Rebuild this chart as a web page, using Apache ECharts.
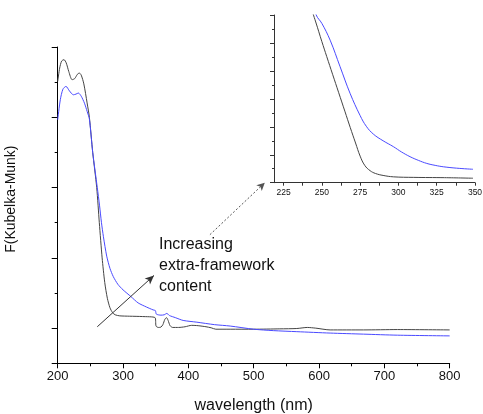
<!DOCTYPE html>
<html><head><meta charset="utf-8">
<script src="https://cdn.jsdelivr.net/npm/echarts@6/dist/echarts.min.js"></script>
<style>html,body{margin:0;padding:0;background:#fff}#c{width:483px;height:414px}</style>
</head><body><div id="c"></div>
<script>
// Main plot: wavelength (nm) vs F(Kubelka-Munk) (arbitrary units)
var mainBlack = [[200,8.02],[203,8.4],[206,8.6],[209.6,8.64],[213,8.55],[217,8.3],[222,8.07],[226,8.1],[230,8.22],[233,8.26],[236,8.2],[240,7.95],[245,7.41],[248.5,7.0],[253.6,6.0],[259.7,5.0],[263.7,4.0],[268,3.0],[272,2.3],[276,1.85],[280,1.58],[284,1.44],[288,1.38],[295,1.35],[310,1.34],[330,1.33],[349,1.30],[350.5,1.06],[354,1.02],[358,1.03],[361,1.1],[364,1.25],[366.5,1.30],[369,1.22],[372,1.07],[376,1.02],[385,1.02],[395,1.04],[405,1.08],[415,1.07],[427,1.04],[435,1.01],[442,0.97],[464,0.97],[500,0.97],[540,0.98],[566,0.99],[582,1.02],[595,1.0],[617,0.95],[668,0.95],[720,0.96],[800,0.95]];
var mainBlue = [[200,6.93],[204,7.5],[208,7.8],[212.7,7.88],[218,7.75],[224,7.64],[228,7.66],[231.6,7.69],[236,7.6],[241,7.4],[245,7.17],[248.5,6.95],[253.6,6.0],[260.6,5.0],[264,4.5],[267,4.0],[270,3.6],[275,3.05],[280,2.7],[285,2.47],[292,2.25],[300,2.09],[312,1.9],[323,1.72],[336,1.6],[346,1.52],[349.5,1.5],[351,1.40],[358,1.37],[363,1.38],[367,1.42],[371,1.36],[380,1.30],[392,1.22],[413,1.17],[440,1.10],[464,1.06],[500,0.97],[530,0.93],[566,0.90],[617,0.86],[668,0.83],[720,0.80],[800,0.78]];
// Inset plot (225-350 nm zoom)
var insetBlack = [[243,6.25],[246,5.75],[250,5.05],[253.2,4.51],[257,3.88],[261,3.22],[265,2.56],[268.5,1.98],[272,1.42],[275,0.95],[278,0.62],[281.5,0.43],[285,0.33],[290,0.26],[296.7,0.21],[310,0.19],[330,0.18],[348.7,0.16]];
var insetBlue = [[245,6.4],[246.3,6.0],[250,5.7],[255.4,5.1],[261.9,4.15],[268.4,3.2],[275,2.40],[279,2.02],[283.6,1.74],[290,1.50],[296.7,1.29],[302,1.1],[307.6,0.93],[313,0.8],[318.5,0.69],[324,0.62],[329.3,0.57],[338,0.52],[348.7,0.48]];
var insetTickLabels = [225, 250, 275, 300, 325, 350];
var insetTicks = [225, 237.5, 250, 262.5, 275, 287.5, 300, 312.5, 325, 337.5, 350];
// Annotation arrows (data coordinates of main plot)
var increaseArrow = [[260.6,1.04],[347.4,2.50]];
var zoomArrow = [[433,3.66],[517,5.14]];
var annotationText = 'Increasing\nextra-framework\ncontent';
var xAxisName = 'wavelength (nm)';
var yAxisName = 'F(Kubelka-Munk)';

var FONT = '"Liberation Sans", Arial, sans-serif';
var chart = echarts.init(document.getElementById('c'), null, {renderer:'canvas'});
chart.setOption({
  animation: false,
  backgroundColor: '#fff',
  grid: [
    {left: 57.7, right: 33.3, top: 47, bottom: 50.7, containLabel:false, outerBoundsMode:'none'},
    {left: 274, right: 8, top: 15, bottom: 231.3, containLabel:false, outerBoundsMode:'none'}
  ],
  xAxis: [
    {gridIndex:0, type:'value', min:200, max:800, interval:100,
     name: xAxisName, nameLocation:'middle', nameGap:34,
     nameTextStyle:{fontFamily:FONT, fontSize:16, color:'#111'},
     axisLine:{lineStyle:{color:'#000', width:1}},
     axisTick:{show:true, length:5, lineStyle:{color:'#000'}},
     minorTick:{show:true, splitNumber:2, length:3, lineStyle:{color:'#000'}},
     splitLine:{show:false},
     axisLabel:{fontFamily:FONT, fontSize:13, color:'#111', margin:7}},
    {gridIndex:1, type:'value', min:218.75, max:350,
     axisLine:{lineStyle:{color:'#333', width:1}},
     axisTick:{show:true, length:3, lineStyle:{color:'#333'}, customValues: insetTicks},
     splitLine:{show:false},
     axisLabel:{fontFamily:FONT, fontSize:8.5, color:'#111', margin:5, customValues: insetTickLabels}}
  ],
  yAxis: [
    {gridIndex:0, type:'value', min:0, max:9, interval:1, position:'left',
     name: yAxisName, nameLocation:'middle', nameGap:40, nameRotate:90,
     nameTextStyle:{fontFamily:FONT, fontSize:14, color:'#111', padding:[0,0,0,12]},
     axisLine:{show:true, lineStyle:{color:'#000', width:1}},
     axisTick:{show:true, length:3, lineStyle:{color:'#000'}},
     splitLine:{show:false}, axisLabel:{show:false}},
    {gridIndex:0, type:'value', min:0, max:9, interval:2, inverse:true, position:'left',
     axisLine:{show:false},
     axisTick:{show:true, length:6, lineStyle:{color:'#000'}},
     splitLine:{show:false}, axisLabel:{show:false}},
    {gridIndex:1, type:'value', min:0, max:6, interval:1, position:'left',
     axisLine:{show:true, lineStyle:{color:'#333', width:1}},
     axisTick:{show:true, length:4, lineStyle:{color:'#333'}},
     minorTick:{show:true, splitNumber:2, length:2, lineStyle:{color:'#333'}},
     splitLine:{show:false}, axisLabel:{show:false}}
  ],
  series: [
    {type:'line', xAxisIndex:0, yAxisIndex:0, data: mainBlack, showSymbol:false,
     smooth:0.25, lineStyle:{color:'#444', width:1}, itemStyle:{color:'#444'},
     markLine:{silent:true, symbol:['none','arrow'], symbolSize:[6,9],
       label:{show:false}, lineStyle:{color:'#333', width:1, type:'solid'},
       data:[[{coord: increaseArrow[0]},{coord: increaseArrow[1]}]]}},
    {type:'line', xAxisIndex:0, yAxisIndex:0, data: mainBlue, showSymbol:false,
     smooth:0.25, lineStyle:{color:'#4a4aff', width:1}, itemStyle:{color:'#4a4aff'},
     markLine:{silent:true, symbol:['none','arrow'], symbolSize:[6,8],
       label:{show:false}, lineStyle:{color:'#555', width:1, type:[2,2]},
       data:[[{coord: zoomArrow[0]},{coord: zoomArrow[1], itemStyle:{color:'#111'}}]]}},
    {type:'line', xAxisIndex:1, yAxisIndex:2, data: insetBlack, showSymbol:false,
     smooth:0.4, clip:true, lineStyle:{color:'#444', width:1}},
    {type:'line', xAxisIndex:1, yAxisIndex:2, data: insetBlue, showSymbol:false,
     smooth:0.4, clip:true, lineStyle:{color:'#4a4aff', width:1}}
  ],
  graphic: [
    {type:'text', left:159, top:234, silent:true,
     style:{text: annotationText, font:'16px ' + FONT, fill:'#111', lineHeight:21}}
  ]
});
</script></body></html>
